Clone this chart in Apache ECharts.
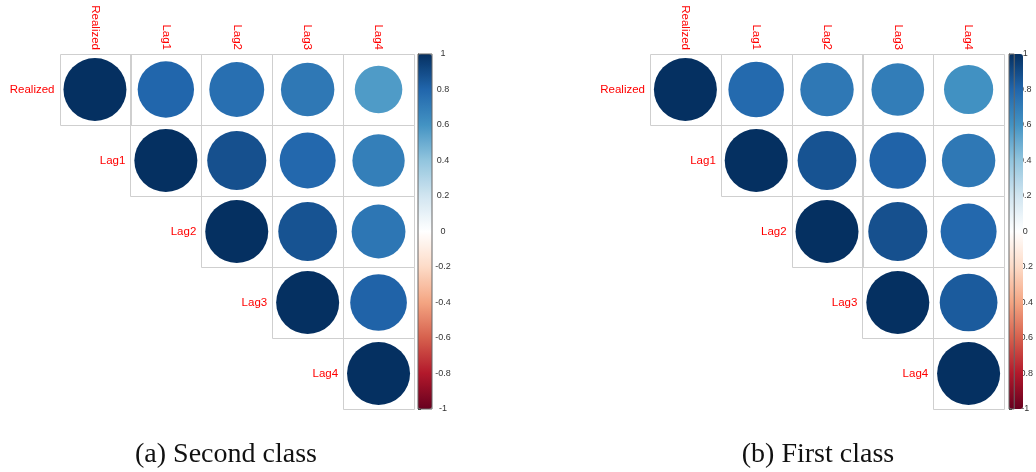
<!DOCTYPE html>
<html>
<head>
<meta charset="utf-8">
<script src="https://cdn.jsdelivr.net/npm/echarts@6/dist/echarts.min.js"></script>
<style>
  html, body { margin: 0; padding: 0; background: #ffffff; }
  #chart { width: 1036px; height: 472px; }
</style>
</head>
<body>
<div id="chart"></div>
<script>
// Variables shown on both correlation plots
const variables = ['Realized', 'Lag1', 'Lag2', 'Lag3', 'Lag4'];

// Upper-triangle correlations, one row per variable, starting at the diagonal
const secondClassCorr = [
  [1.00, 0.80, 0.76, 0.72, 0.57],
  [1.00, 0.88, 0.79, 0.69],
  [1.00, 0.87, 0.73],
  [1.00, 0.81],
  [1.00]
];
const firstClassCorr = [
  [1.00, 0.78, 0.72, 0.70, 0.61],
  [1.00, 0.87, 0.81, 0.72],
  [1.00, 0.88, 0.79],
  [1.00, 0.84],
  [1.00]
];

const captions = ['(a) Second class', '(b) First class'];
const colorScale = { min: -1, max: 1, step: 0.2 };

// Diverging red-white-blue palette, from -1 to 1
const rdbu = ['#67001F', '#B2182B', '#D6604D', '#F4A582', '#FDDBC7', '#FFFFFF',
              '#D1E5F0', '#92C5DE', '#4393C3', '#2166AC', '#053061'];

const panels = [
  { corr: secondClassCorr, caption: captions[0],
    grid: { left: 59.5, top: 54, width: 354.5, height: 355 },
    bar: { left: 418, top: 54, width: 14, height: 355 }, captionX: 226 },
  { corr: firstClassCorr, caption: captions[1],
    grid: { left: 650, top: 54, width: 354, height: 355 },
    bar: { left: 1009, top: 54, width: 14, height: 355 }, captionX: 818 }
];

const labelFont = '"Liberation Sans", Arial, sans-serif';
const maxDiameter = 63;

const grids = [], xAxes = [], yAxes = [], series = [], visualMaps = [], graphics = [];

panels.forEach((p) => {
  const gMain = grids.length;
  grids.push(Object.assign({ containLabel: false }, p.grid));
  const gBar = grids.length;
  grids.push({ left: p.bar.left, top: p.bar.top, width: p.bar.width, height: p.bar.height,
               show: true, borderColor: '#666', borderWidth: 1, backgroundColor: 'transparent', z: 6 });

  // Column labels along the top, rotated
  xAxes.push({
    gridIndex: gMain, type: 'category', data: variables, position: 'top',
    axisLine: { show: false }, axisTick: { show: false }, splitLine: { show: false },
    axisLabel: { rotate: 90, margin: 4, color: '#ff0000', fontSize: 11.5, fontFamily: labelFont, interval: 0 }
  });
  yAxes.push({
    gridIndex: gMain, type: 'category', data: variables, inverse: true,
    axisLine: { show: false }, axisTick: { show: false }, axisLabel: { show: false }, splitLine: { show: false }
  });
  // Color legend scale
  xAxes.push({ gridIndex: gBar, type: 'value', show: false });
  yAxes.push({
    gridIndex: gBar, type: 'value', position: 'right',
    min: colorScale.min, max: colorScale.max, interval: colorScale.step,
    axisLine: { show: true, lineStyle: { color: '#333', width: 1 } },
    axisTick: { show: true, length: 3, lineStyle: { color: '#333' } },
    splitLine: { show: false },
    axisLabel: { margin: 11, align: 'center', color: '#333', fontSize: 9, fontFamily: labelFont }
  });

  const xi = xAxes.length - 2, yi = yAxes.length - 2;

  const cells = [], circles = [], diag = [];
  p.corr.forEach((row, r) => {
    row.forEach((v, j) => {
      const c = r + j;
      cells.push([c, r]);
      circles.push([c, r, v]);
    });
    diag.push([r, r]);
  });

  // Cell outlines of the upper triangle
  series.push({
    type: 'custom', xAxisIndex: xi, yAxisIndex: yi, silent: true, z: 1,
    data: cells,
    renderItem: (params, api) => {
      const pt = api.coord([api.value(0), api.value(1)]);
      const s = api.size([1, 1]);
      return {
        type: 'rect',
        shape: { x: Math.round(pt[0] - s[0] / 2) + 0.5, y: Math.round(pt[1] - s[1] / 2) + 0.5,
                 width: Math.round(s[0]), height: Math.round(s[1]) },
        style: { fill: 'none', stroke: '#cfcfcf', lineWidth: 1 }
      };
    }
  });

  // Circles: area proportional to |r|, colour from the palette
  const circleSeries = series.length;
  series.push({
    type: 'scatter', xAxisIndex: xi, yAxisIndex: yi, z: 2,
    data: circles,
    symbol: 'circle',
    symbolSize: v => maxDiameter * Math.sqrt(Math.abs(v[2])),
    itemStyle: { opacity: 1 },
    emphasis: { disabled: true }
  });

  // Row labels beside the diagonal
  series.push({
    type: 'custom', xAxisIndex: xi, yAxisIndex: yi, silent: true, z: 3,
    data: diag,
    renderItem: (params, api) => {
      const pt = api.coord([api.value(0), api.value(1)]);
      const s = api.size([1, 1]);
      return {
        type: 'text',
        x: pt[0] - s[0] / 2 - 5, y: pt[1],
        style: { text: variables[api.value(1)], fill: '#ff0000', fontSize: 11.5,
                 fontFamily: labelFont, align: 'right', verticalAlign: 'middle' }
      };
    }
  });

  visualMaps.push({
    type: 'continuous', seriesIndex: circleSeries, dimension: 2,
    min: colorScale.min, max: colorScale.max,
    left: p.bar.left, top: p.bar.top, itemWidth: p.bar.width, itemHeight: p.bar.height,
    padding: 0, calculable: false, realtime: false, hoverLink: false,
    inRange: { color: rdbu }, text: null, textStyle: { fontSize: 0 }
  });

  graphics.push({
    type: 'text', x: p.captionX, y: 455,
    style: { text: p.caption, fill: '#111', fontSize: 28,
             fontFamily: '"Liberation Serif", "DejaVu Serif", serif',
             align: 'center', verticalAlign: 'middle' }
  });
});

const chart = echarts.init(document.getElementById('chart'), null, { renderer: 'canvas' });
chart.setOption({
  animation: false,
  backgroundColor: '#ffffff',
  grid: grids,
  xAxis: xAxes,
  yAxis: yAxes,
  visualMap: visualMaps,
  series: series,
  graphic: graphics
});
</script>
</body>
</html>
